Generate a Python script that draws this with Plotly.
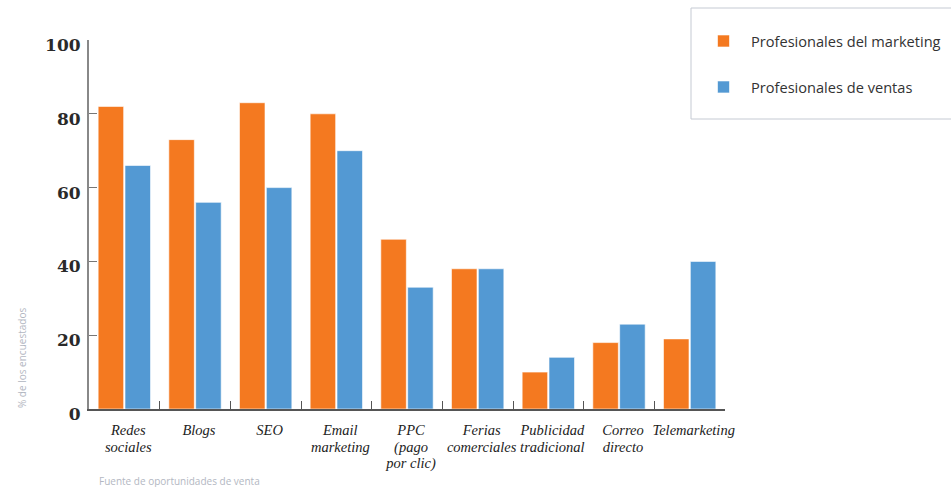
import plotly.graph_objects as go

categories = ["Redes sociales", "Blogs", "SEO", "Email marketing", "PPC (pago por clic)",
              "Ferias comerciales", "Publicidad tradicional", "Correo directo", "Telemarketing"]
tick_lines = [["Redes", "sociales"], ["Blogs"], ["SEO"], ["Email", "marketing"],
              ["PPC", "(pago", "por clic)"], ["Ferias", "comerciales"],
              ["Publicidad", "tradicional"], ["Correo", "directo"], ["Telemarketing"]]
marketing = [82, 73, 83, 80, 46, 38, 10, 18, 19]
ventas = [66, 56, 60, 70, 33, 38, 14, 23, 40]
y_ticks = [0, 20, 40, 60, 80, 100]

ORANGE = "#F47920"
BLUE = "#5399D3"

L, R, T, B = 89, 725, 40, 409
W, H = 951, 487
PW, PH = R - L, B - T


def px(x):
    return (x - L) / PW


def py(y):
    return (B - y) / PH


tick_labels = ["<br>".join('<span style="font-size:14.5px">%s</span>' % s for s in lines)
               for lines in tick_lines]

fig = go.Figure()
fig.add_trace(go.Bar(x=categories, y=marketing, name="Profesionales del marketing",
                     marker=dict(color=ORANGE, line=dict(color="rgba(255,255,255,0.6)", width=1)),
                     legendgroup="a"))
fig.add_trace(go.Bar(x=categories, y=ventas, name="Profesionales de ventas",
                     marker=dict(color=BLUE, line=dict(color="rgba(255,255,255,0.6)", width=1)),
                     legendgroup="b"))

fig.update_layout(
    width=W, height=H,
    margin=dict(l=L, r=W - R, t=T, b=H - B, autoexpand=False),
    paper_bgcolor="white", plot_bgcolor="white",
    barmode="group", bargap=0.24, bargroupgap=0.05,
    showlegend=True,
    legend=dict(x=px(696), y=py(25), xanchor="left", yanchor="top",
                borderwidth=0,
                font=dict(family="Open Sans", size=14.6, color="#333333"),
                traceorder="grouped", tracegroupgap=24,
                itemwidth=45,
                bgcolor="rgba(0,0,0,0)"),
    xaxis=dict(
        tickmode="array", tickvals=categories, ticktext=tick_labels,
        tickson="boundaries", ticks="inside", ticklen=8, tickcolor="#555555", tickwidth=1,
        showline=True, linecolor="#555555", linewidth=2,
        showgrid=False, zeroline=False, tickangle=0, automargin=False,
        ticklabelshift=4, ticklabelstandoff=8,
        tickfont=dict(family="Liberation Serif", size=13, color="#222222", style="italic"),
    ),
    yaxis=dict(
        range=[0, 100], tickmode="array", tickvals=y_ticks,
        ticks="inside", ticklen=8, tickcolor="#777777", tickwidth=1,
        showline=True, linecolor="#888888", linewidth=2,
        showgrid=False, zeroline=False, automargin=False,
        tickfont=dict(family="DejaVu Serif", size=17, color="#2a2a2a", weight="bold"),
        ticklabelstandoff=3, ticklabelshift=5,
    ),
    shapes=[
        dict(type="rect", xref="paper", yref="paper",
             x0=px(691), x1=px(953), y0=py(119), y1=py(8),
             line=dict(color="#c5cad3", width=1), fillcolor="rgba(0,0,0,0)", layer="below"),
    ],
    annotations=[
        dict(text="% de los encuestados", xref="paper", yref="paper",
             x=px(22), y=py(358), xanchor="center", yanchor="middle",
             textangle=-90, showarrow=False,
             font=dict(family="Open Sans", size=10, color="#b3b7c2")),
        dict(text="Fuente de oportunidades de venta", xref="paper", yref="paper",
             x=px(97), y=py(481), xanchor="left", yanchor="middle",
             showarrow=False,
             font=dict(family="Open Sans", size=10, color="#b3b7c2")),
    ],
)

fig.write_html("out.html")
